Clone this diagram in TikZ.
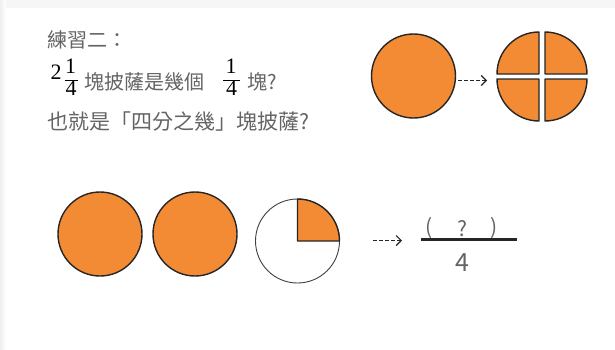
\documentclass[tikz,border=0pt]{standalone}
\usepackage{fontspec}
\setmainfont{Liberation Serif}
\newfontfamily\cjk{Noto Sans CJK TC}
\newfontfamily\numfont{Liberation Serif}
\usetikzlibrary{arrows.meta}
\definecolor{pizza}{RGB}{243,138,52}
\definecolor{txtgray}{RGB}{100,100,100}
\tikzset{
  pie/.style={draw=black!85, line width=1.4pt, fill=pizza, line join=round},
  emptypie/.style={draw=black!75, line width=0.9pt, fill=white},
  cjktext/.style={font=\cjk\fontsize{20}{24}\selectfont, text=txtgray, inner sep=0pt, anchor=west},
  fracnum/.style={font=\numfont\fontsize{22}{24}\selectfont, text=black, inner sep=0pt,
    text height=0.62em, text depth=0pt},
  dasharrow/.style={dashed, dash pattern=on 3.5pt off 2.5pt, line width=1.2pt, draw=black!85,
    -{Straight Barb[length=5pt,width=10pt,line width=1.2pt]}},
  answertext/.style={font=\cjk\fontsize{21}{24}\selectfont, text=txtgray, inner sep=0pt},
}
\begin{document}
\begin{tikzpicture}[x=1pt,y=-1pt]
\useasboundingbox (0,0) rectangle (615,349);
% card shadow
\fill[gray!7] (0,0) rectangle (615,8);
\shade[left color=gray!12, right color=white] (0,0) rectangle (6,349);
\fill[white] (6,8) rectangle (615,349);

% text lines
\node[cjktext] (l1) at (47,40) {練習二：};
\node[fracnum, anchor=center] (two) at (56,76) {2};
\node[fracnum, anchor=center] (n1) at (70.5,70) {1};
\node[fracnum, anchor=center] (d1) at (71,92) {4};
\draw[line width=0.9pt] (64.5,80) -- (77.5,80);
\node[cjktext] (l2a) at (84,82) {塊披薩是幾個};
\node[fracnum, anchor=center] (n2) at (231,70) {1};
\node[fracnum, anchor=center] (d2) at (231.5,92) {4};
\draw[line width=0.9pt] (223,80) -- (240,80);
\node[cjktext] (l2b) at (247,82) {塊?};
\node[cjktext, font=\cjk\fontsize{21}{24}\selectfont] (l3) at (47,122) {也就是「四分之幾」塊披薩?};

% top right: whole pizza -> quarters
\filldraw[pie] (413.5,76) circle (42);
\coordinate (wholeR) at (458,80.5);
\coordinate (arrTop) at (487,80.5);
\draw[dasharrow] (wholeR) -- (arrTop);
\filldraw[pie] (539,74) -- (497,74) arc[start angle=180, end angle=270, radius=42] -- cycle;
\filldraw[pie] (545,74) -- (545,32) arc[start angle=270, end angle=360, radius=42] -- cycle;
\filldraw[pie] (539,79) -- (539,121) arc[start angle=90, end angle=180, radius=42] -- cycle;
\filldraw[pie] (545,79) -- (587,79) arc[start angle=0, end angle=90, radius=42] -- cycle;

% bottom row
\filldraw[pie] (100,234) circle (42);
\filldraw[pie] (195,234) circle (42);
\filldraw[emptypie] (297.5,241) circle (42);
\filldraw[pie] (297.5,241) -- (297.5,199) arc[start angle=270, end angle=360, radius=42] -- cycle;

\coordinate (arrB1) at (373,240.5);
\coordinate (arrB2) at (402,240.5);
\draw[dasharrow] (arrB1) -- (arrB2);

\draw[line width=2.6pt, black!85] (421,239.5) -- (517,239.5);
\node[answertext] (lp) at (429.5,228) {(};
\node[answertext] (qm) at (462.5,229) {?};
\node[answertext] (rp) at (494.5,228) {)};
\node[font=\cjk\fontsize{25}{28}\selectfont, text=txtgray, inner sep=0pt] (den) at (462.5,263) {4};
\end{tikzpicture}
\end{document}
